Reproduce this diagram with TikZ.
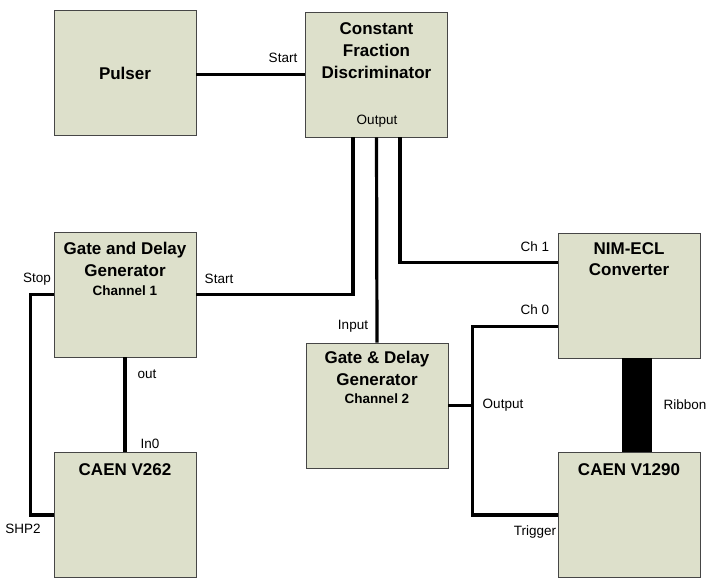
\documentclass[tikz,border=0pt]{standalone}
\usepackage{fontspec}
\setmainfont{Liberation Sans}
\usetikzlibrary{calc}
\definecolor{boxfill}{RGB}{221,224,203}
\definecolor{boxline}{RGB}{70,70,70}
\begin{document}
\begin{tikzpicture}[x=1pt,y=-1pt,
  box/.style={draw=boxline,line width=0.8pt,fill=boxfill,rectangle,inner sep=0pt,minimum width=142pt,minimum height=125pt},
  ttl/.style={font=\fontsize{17}{21.5}\selectfont\bfseries,align=center,inner sep=0pt},
  sub/.style={font=\fontsize{13.5}{16}\selectfont\bfseries,inner sep=0pt},
  lbl/.style={font=\fontsize{13.5}{16}\selectfont,inner sep=0pt},
  wire/.style={line width=3.2pt,black}]
\useasboundingbox (0,0) rectangle (707,579);
% boxes
\node[box] (pulser) at (125,72.5) {};
\node[box] (cfd) at (376.5,74.5) {};
\node[box] (gdg1) at (125,294.5) {};
\node[box] (v262) at (125,515) {};
\node[box] (nim) at (629,295.5) {};
\node[box] (gdg2) at (377,405.5) {};
\node[box] (v1290) at (629,515) {};
% titles
\node[ttl] (tpulser) at (125,73) {Pulser};
\node[ttl] (tcfd1) at (376.5,29) {Constant};
\node[ttl] (tcfd2) at (376.5,50.5) {Fraction};
\node[ttl] (tcfd3) at (376.5,72) {Discriminator};
\node[ttl] (tg1a) at (125,250) {Gate and Delay};
\node[ttl] (tg1b) at (125,271) {Generator};
\node[sub] (tg1c) at (125,291) {Channel 1};
\node[ttl] (tv262) at (125,470) {CAEN V262};
\node[ttl] (tnim1) at (629,249) {NIM-ECL};
\node[ttl] (tnim2) at (629,270) {Converter};
\node[ttl] (tg2a) at (377,359) {Gate \& Delay};
\node[ttl] (tg2b) at (377,380) {Generator};
\node[sub] (tg2c) at (377,399) {Channel 2};
\node[ttl] (tv1290) at (629,470) {CAEN V1290};
% connectors
\draw[wire] (pulser.east |- cfd.west) -- (cfd.west);
\draw[wire] ($(cfd.south)+(-23.5,0)$) |- (gdg1.east);
\draw[wire] (cfd.south) -- (gdg2.north);
\draw[wire] ($(cfd.south)+(23.5,0)$) |- ($(nim.north west)+(0,30)$);
\coordinate (junc) at ($(gdg2.east)+(24,0)$);
\draw[wire] ($(nim.north west)+(0,94)$) -| (junc) |- (v1290.west);
\draw[wire] (gdg2.east) -- (junc);
\draw[wire] (gdg1.west) -- ++(-23,0) |- (v262.west);
\draw[wire] (gdg1.south) -- (v262.north);
\fill[black] ($(nim.south)+(-7,0)$) rectangle ($(v1290.north)+(23,0)$);
% labels
\node[lbl] (lstart1) at (283,58) {Start};
\node[lbl] (lout1) at (377,121) {Output};
\node[lbl] (lstop) at (37,279) {Stop};
\node[lbl] (lstart2) at (219,279) {Start};
\node[lbl] (lout) at (147,374) {out};
\node[lbl] (lin0) at (150,444) {In0};
\node[lbl] (lshp) at (23,529) {SHP2};
\node[lbl] (lch1) at (535,247) {Ch 1};
\node[lbl] (lch0) at (535,310) {Ch 0};
\node[lbl] (linput) at (353,326) {Input};
\node[lbl] (lout2) at (503,405) {Output};
\node[lbl] (lrib) at (685,405) {Ribbon};
\node[lbl] (ltrig) at (535,532) {Trigger};
\end{tikzpicture}
\end{document}
